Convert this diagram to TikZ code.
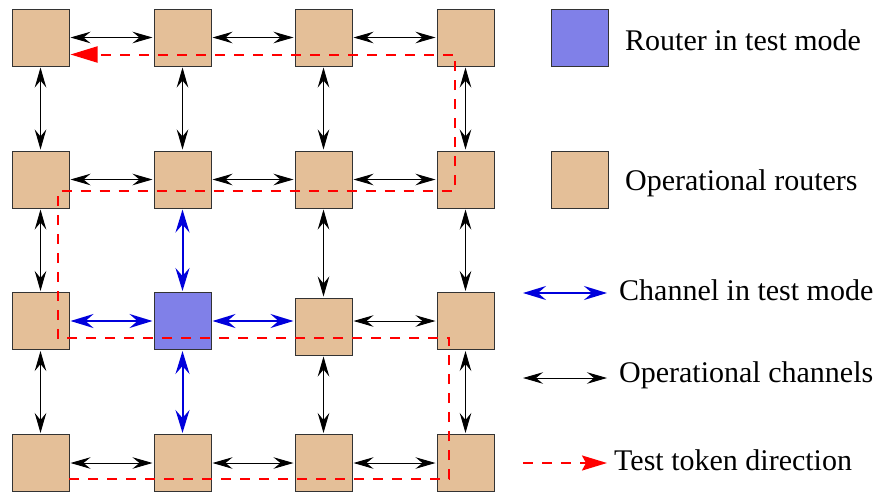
\documentclass[tikz,border=0pt]{standalone}
\usepackage{fontspec}
\setmainfont{Liberation Serif}
\usetikzlibrary{arrows.meta,calc}
\definecolor{oprouter}{RGB}{228,191,152}
\definecolor{testrouter}{RGB}{128,128,232}
\definecolor{tokenred}{RGB}{255,0,0}
\definecolor{testblue}{RGB}{0,0,220}
\tikzset{
  router/.style={draw=black!80, line width=1pt, fill=oprouter, minimum size=57pt, inner sep=0pt, outer sep=0pt},
  testrouterbox/.style={router, fill=testrouter},
  opchan/.style={line width=0.9pt, black, {Stealth[length=20pt,width=11.5pt,inset=7pt]}-{Stealth[length=20pt,width=11.5pt,inset=7pt]}, shorten >=1.5pt, shorten <=1.5pt},
  testchan/.style={line width=2pt, testblue, {Stealth[length=23pt,width=14pt,inset=8pt]}-{Stealth[length=23pt,width=14pt,inset=8pt]}, shorten >=1.5pt, shorten <=1.5pt},
  token/.style={line width=2pt, tokenred, dash pattern=on 10pt off 9pt},
  legtext/.style={anchor=west, inner sep=0pt, font=\fontsize{30}{36}\selectfont}
}
\begin{document}
\begin{tikzpicture}[x=1pt,y=-1pt]
\useasboundingbox (0,0) rectangle (878,496);
% routers
\node[router] (r11) at (40.5,37.5) {};
\node[router] (r12) at (182.5,37.5) {};
\node[router] (r13) at (323.5,37.5) {};
\node[router] (r14) at (465.5,37.5) {};
\node[router] (r21) at (40.5,179.5) {};
\node[router] (r22) at (182.5,179.5) {};
\node[router] (r23) at (323.5,179.5) {};
\node[router] (r24) at (465.5,179.5) {};
\node[router] (r31) at (40.5,321) {};
\node[testrouterbox] (r32) at (182.5,321) {};
\node[router] (r33) at (323.5,326.5) {};
\node[router] (r34) at (465.5,321) {};
\node[router] (r41) at (40.5,463) {};
\node[router] (r42) at (182.5,463) {};
\node[router] (r43) at (323.5,463) {};
\node[router] (r44) at (465.5,463) {};
% token path corners
\coordinate (t0) at ($(r41.east)+(0,16)$);
\coordinate (t1) at (449,479);
\coordinate (t2) at (449,338);
\coordinate (t3) at (57.5,338);
\coordinate (t4) at (57.5,190.7);
\coordinate (t5) at (455,190.7);
\coordinate (t6) at (455,54.5);
\coordinate (t7) at ($(r11.east)+(1.5,17)$);
\draw[token, -{Triangle[length=27pt,width=16pt]}] (t0) -- (t1) -- (t2) -- (t3) -- (t4) -- (t5) -- (t6) -- (t7);
% horizontal operational channels
\draw[opchan] (r11.east) -- (r12.west);
\draw[opchan] (r12.east) -- (r13.west);
\draw[opchan] (r13.east) -- (r14.west);
\draw[opchan] (r21.east) -- (r22.west);
\draw[opchan] (r22.east) -- (r23.west);
\draw[opchan] (r23.east) -- (r24.west);
\draw[opchan] (r33.east |- r34.west) -- (r34.west);
\draw[opchan] (r41.east) -- (r42.west);
\draw[opchan] (r42.east) -- (r43.west);
\draw[opchan] (r43.east) -- (r44.west);
% vertical operational channels
\draw[opchan] (r11.south) -- (r21.north);
\draw[opchan] (r12.south) -- (r22.north);
\draw[opchan] (r13.south) -- (r23.north);
\draw[opchan] (r14.south) -- (r24.north);
\draw[opchan] (r21.south) -- (r31.north);
\draw[opchan] (r23.south) -- (r33.north);
\draw[opchan] (r24.south) -- (r34.north);
\draw[opchan] (r31.south) -- (r41.north);
\draw[opchan] (r33.south) -- (r43.north);
\draw[opchan] (r34.south) -- (r44.north);
% test channels
\draw[testchan] (r31.east) -- (r32.west);
\draw[testchan] (r32.east) -- (r32.east -| r33.west);
\draw[testchan] (r22.south) -- (r32.north);
\draw[testchan] (r32.south) -- (r42.north);
% legend
\node[testrouterbox] (lb) at (579.5,37.5) {};
\node[router] (lo) at (579.5,179.5) {};
\node[legtext] (lbt) at (625,40) {Router in test mode};
\node[legtext] (lot) at (625,183) {Operational routers};
\coordinate (lc1) at (523,293);
\coordinate (lc2) at (607,293);
\draw[testchan, shorten >=0pt, shorten <=0pt] (lc1) -- (lc2);
\node[legtext] (lct) at (619,290) {Channel in test mode};
\coordinate (lo1) at (523,378);
\coordinate (lo2) at (607,378);
\draw[opchan, shorten >=0pt, shorten <=0pt] (lo1) -- (lo2);
\node[legtext] (lot2) at (619,375) {Operational channels};
\coordinate (lt1) at (523,463);
\coordinate (lt2) at (607,463);
\draw[token, -{Stealth[length=25pt,width=15pt,inset=4pt]}] (lt1) -- (lt2);
\node[legtext] (ltt) at (614,460) {Test token direction};
\end{tikzpicture}
\end{document}
